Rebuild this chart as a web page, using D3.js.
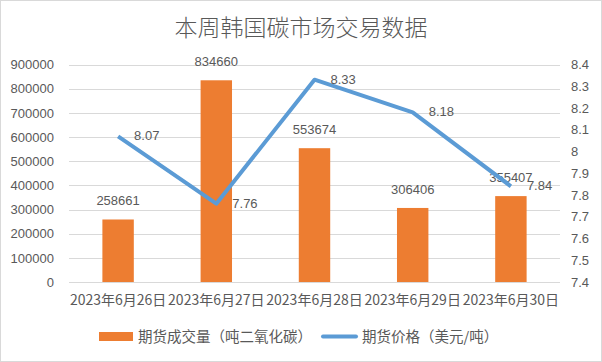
<!DOCTYPE html>
<html>
<head>
<meta charset="utf-8">
<script src="https://cdn.jsdelivr.net/npm/d3@7"></script>
<style>
  body { margin: 0; background: #fff; }
  text { font-family: "Liberation Sans", "Noto Sans CJK SC", sans-serif; fill: #595959; }
</style>
</head>
<body>
<svg width="602" height="362"></svg>
<script>
const categories = ["2023年6月26日", "2023年6月27日", "2023年6月28日", "2023年6月29日", "2023年6月30日"];
const volume = [258661, 834660, 553674, 306406, 355407];
const price = [8.07, 7.76, 8.33, 8.18, 7.84];
const leftTicks = [0, 100000, 200000, 300000, 400000, 500000, 600000, 700000, 800000, 900000];
const rightTicks = [7.4, 7.5, 7.6, 7.7, 7.8, 7.9, 8, 8.1, 8.2, 8.3, 8.4];
const seriesNames = ["期货成交量（吨二氧化碳）", "期货价格（美元/吨）"];

const svg = d3.select('svg');
const plotLeft = 69, plotRight = 560, plotTop = 64.5, plotBottom = 282;
const cjk = '"Noto Sans CJK SC", sans-serif';

svg.append('rect')
    .attr('x', 0.5).attr('y', 0.5)
    .attr('width', 601).attr('height', 361)
    .attr('fill', '#fff').attr('stroke', '#d9d9d9');

svg.append('text')
    .attr('x', 301).attr('y', 36)
    .attr('text-anchor', 'middle')
    .style('font-family', cjk)
    .style('font-weight', 300)
    .style('font-size', '23px')
    .text('本周韩国碳市场交易数据');

const x = d3.scaleBand().domain(categories).range([plotLeft, plotRight]).paddingInner(0.68).paddingOuter(0.34);
const xc = d => x(d) + x.bandwidth() / 2;
const yL = d3.scaleLinear().domain([0, 900000]).range([plotBottom, plotTop]);
const yR = d3.scaleLinear().domain([7.4, 8.4]).range([plotBottom, plotTop]);

// gridlines
svg.append('g')
    .selectAll('line')
    .data(leftTicks)
    .enter()
    .append('line')
    .attr('x1', plotLeft).attr('x2', plotRight)
    .attr('y1', d => Math.round(yL(d)) + 0.5)
    .attr('y2', d => Math.round(yL(d)) + 0.5)
    .attr('stroke', '#d9d9d9');

const axisL = svg.append('g')
    .attr('transform', 'translate(' + (plotLeft - 12) + ',0)')
    .call(d3.axisLeft(yL).tickValues(leftTicks).tickSize(0).tickFormat(d3.format('d')));
axisL.select('.domain').remove();
axisL.selectAll('text').style('font-size', '13px').attr('fill', '#595959');

const axisR = svg.append('g')
    .attr('transform', 'translate(' + (plotRight + 8) + ',0)')
    .call(d3.axisRight(yR).tickValues(rightTicks).tickSize(0).tickFormat(d => String(+d.toFixed(1))));
axisR.select('.domain').remove();
axisR.selectAll('text').style('font-size', '13px').attr('fill', '#595959');

// bars
svg.selectAll('.bar')
    .data(volume)
    .enter()
    .append('rect')
    .attr('class', 'bar')
    .attr('x', (d, i) => x(categories[i]))
    .attr('y', d => yL(d))
    .attr('width', x.bandwidth())
    .attr('height', d => plotBottom - yL(d))
    .attr('fill', '#ed7d31');

svg.selectAll('.barlabel')
    .data(volume)
    .enter()
    .append('text')
    .attr('class', 'barlabel')
    .attr('x', (d, i) => xc(categories[i]))
    .attr('y', d => yL(d) - 14)
    .attr('text-anchor', 'middle')
    .style('font-size', '13px')
    .text(d => d);

// category labels
svg.selectAll('.cat')
    .data(categories)
    .enter()
    .append('text')
    .attr('class', 'cat')
    .attr('x', d => xc(d))
    .attr('y', 305)
    .attr('text-anchor', 'middle')
    .style('font-size', '14px')
    .style('font-family', cjk)
    .text(d => d);

// line
const line = d3.line()
    .x((d, i) => xc(categories[i]))
    .y(d => yR(d));

svg.append('path')
    .datum(price)
    .attr('d', line)
    .attr('fill', 'none')
    .attr('stroke', '#5b9bd5')
    .attr('stroke-width', 4)
    .attr('stroke-linejoin', 'round');

svg.selectAll('.pricelabel')
    .data(price)
    .enter()
    .append('text')
    .attr('class', 'pricelabel')
    .attr('x', (d, i) => xc(categories[i]) + 16)
    .attr('y', d => yR(d) + 4)
    .style('font-size', '13px')
    .text(d => d);

// legend
const lg = svg.append('g');
lg.append('rect')
    .attr('x', 99).attr('y', 332).attr('width', 34).attr('height', 9)
    .attr('fill', '#ed7d31');
lg.append('text')
    .attr('x', 138).attr('y', 342)
    .style('font-size', '14.5px')
    .style('font-family', cjk)
    .text(seriesNames[0]);
lg.append('line')
    .attr('x1', 323).attr('x2', 356).attr('y1', 336.5).attr('y2', 336.5)
    .attr('stroke', '#5b9bd5').attr('stroke-width', 4).attr('stroke-linecap', 'round');
lg.append('text')
    .attr('x', 362).attr('y', 342)
    .style('font-size', '14.5px')
    .style('font-family', cjk)
    .text(seriesNames[1]);
</script>
</body>
</html>
